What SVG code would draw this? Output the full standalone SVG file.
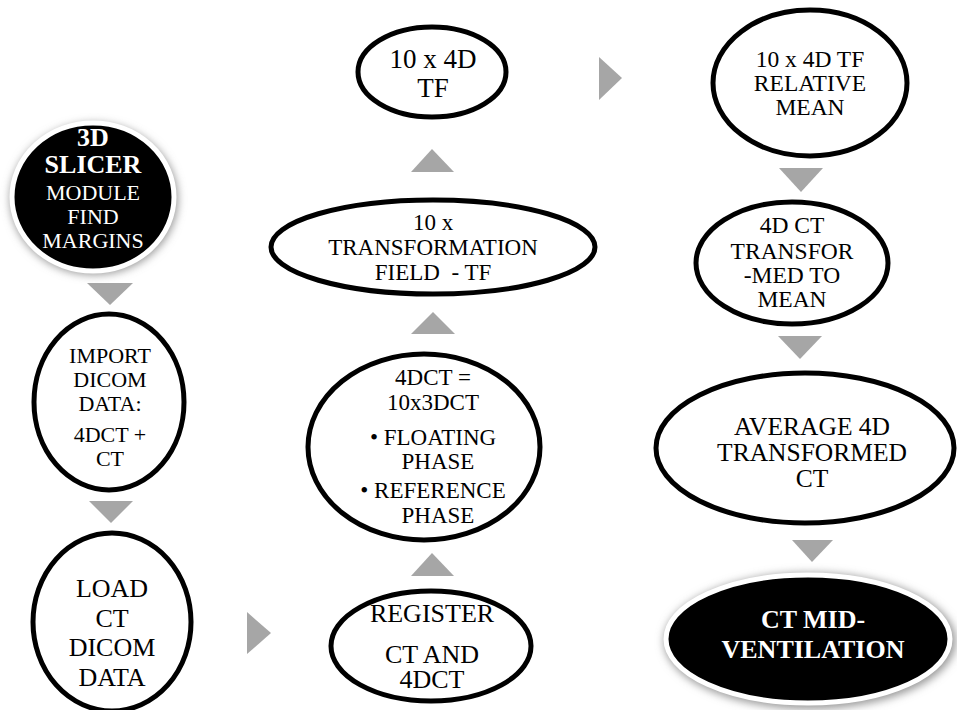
<svg xmlns="http://www.w3.org/2000/svg" width="957" height="710" viewBox="0 0 957 710">
<defs>
<style>
.n{fill:#fff;stroke:#000;stroke-width:5}
.b{fill:#000;stroke:#fff;stroke-width:5}
.sh{fill:#999;filter:url(#blur)}
text{font-family:'Liberation Serif','Times New Roman',serif;text-anchor:middle}
.t{fill:#000}
.w{fill:#fff}
.bold{font-weight:bold}
.arr{fill:#a6a6a6}
</style>
<filter id="blur" x="-20%" y="-20%" width="140%" height="140%"><feGaussianBlur stdDeviation="4"/></filter>
</defs>
<rect width="957" height="710" fill="#fff"/>
<g id="connectors">
<polygon class="arr" points="87,283 133,283 110,305"/>
<polygon class="arr" points="89,501 133,501 111,523"/>
<polygon class="arr" points="247,612 247,654 271,633"/>
<polygon class="arr" points="411,576 454,576 432,553"/>
<polygon class="arr" points="411,334 455,334 433,312"/>
<polygon class="arr" points="411,172 454,172 432,149"/>
<polygon class="arr" points="599,57 599,100 622,78"/>
<polygon class="arr" points="779,168 823,168 801,192"/>
<polygon class="arr" points="778,336 822,336 800,359"/>
<polygon class="arr" points="792,540 833,540 812,562"/>
</g>
<g id="node-slicer">
<ellipse class="sh" cx="94" cy="199" rx="84" ry="76"/>
<ellipse class="b" cx="93" cy="197" rx="81" ry="74"/>
<text class="w bold" x="93" y="146" font-size="26">3D</text>
<text class="w bold" x="93" y="173" font-size="26">SLICER</text>
<text class="w" x="93" y="200" font-size="22">MODULE</text>
<text class="w" x="93" y="224" font-size="22">FIND</text>
<text class="w" x="93" y="248" font-size="22">MARGINS</text>
</g>
<g id="node-import">
<ellipse class="n" cx="109" cy="402" rx="75" ry="88"/>
<text class="t" x="110" y="363" font-size="22">IMPORT</text>
<text class="t" x="110" y="387" font-size="22">DICOM</text>
<text class="t" x="110" y="411" font-size="22">DATA:</text>
<text class="t" x="110" y="442" font-size="22">4DCT +</text>
<text class="t" x="110" y="466" font-size="22">CT</text>
</g>
<g id="node-load">
<ellipse class="n" cx="112" cy="622" rx="79" ry="89"/>
<text class="t" x="112" y="597" font-size="26">LOAD</text>
<text class="t" x="112" y="627" font-size="26">CT</text>
<text class="t" x="112" y="656" font-size="26">DICOM</text>
<text class="t" x="112" y="686" font-size="26">DATA</text>
</g>
<g id="node-register">
<ellipse class="n" cx="431" cy="646" rx="100" ry="55"/>
<text class="t" x="432" y="622" font-size="26">REGISTER</text>
<text class="t" x="432" y="663" font-size="26">CT AND</text>
<text class="t" x="432" y="688" font-size="26">4DCT</text>
</g>
<g id="node-4dct">
<ellipse class="n" cx="424" cy="447" rx="116" ry="93"/>
<text class="t" x="433" y="385" font-size="23">4DCT =</text>
<text class="t" x="433" y="410" font-size="23">10x3DCT</text>
<text class="t" x="433" y="445" font-size="23">• FLOATING</text>
<text class="t" x="438" y="469" font-size="23">PHASE</text>
<text class="t" x="433" y="498" font-size="23">• REFERENCE</text>
<text class="t" x="438" y="523" font-size="23">PHASE</text>
</g>
<g id="node-transformation">
<ellipse class="n" cx="433" cy="247" rx="162" ry="47"/>
<text class="t" x="433" y="230" font-size="23">10 x</text>
<text class="t" x="433" y="255" font-size="23">TRANSFORMATION</text>
<text class="t" x="433" y="280" font-size="23" xml:space="preserve">FIELD  - TF</text>
</g>
<g id="node-4dtf">
<ellipse class="n" cx="432" cy="72" rx="74" ry="45"/>
<text class="t" x="433" y="68" font-size="27">10 x 4D</text>
<text class="t" x="433" y="97" font-size="27">TF</text>
</g>
<g id="node-relative">
<ellipse class="n" cx="810" cy="83" rx="97" ry="73"/>
<text class="t" x="810" y="67" font-size="23.5">10 x 4D TF</text>
<text class="t" x="810" y="91" font-size="23.5">RELATIVE</text>
<text class="t" x="810" y="115" font-size="23.5">MEAN</text>
</g>
<g id="node-transformed">
<ellipse class="n" cx="792" cy="263" rx="96" ry="61"/>
<text class="t" x="792" y="233" font-size="23.5">4D CT</text>
<text class="t" x="792" y="259" font-size="23.5">TRANSFOR</text>
<text class="t" x="792" y="283" font-size="23.5">-MED TO</text>
<text class="t" x="792" y="307" font-size="23.5">MEAN</text>
</g>
<g id="node-average">
<ellipse class="n" cx="805" cy="448" rx="149" ry="75"/>
<text class="t" x="812" y="435" font-size="25.5">AVERAGE 4D</text>
<text class="t" x="812" y="461" font-size="25.5">TRANSFORMED</text>
<text class="t" x="812" y="487" font-size="25.5">CT</text>
</g>
<g id="node-mid">
<ellipse class="sh" cx="810" cy="641" rx="146" ry="68"/>
<ellipse class="b" cx="808" cy="639" rx="142" ry="64"/>
<text class="w bold" x="813" y="628" font-size="26">CT MID-</text>
<text class="w bold" x="813" y="658" font-size="26">VENTILATION</text>
</g>
</svg>
